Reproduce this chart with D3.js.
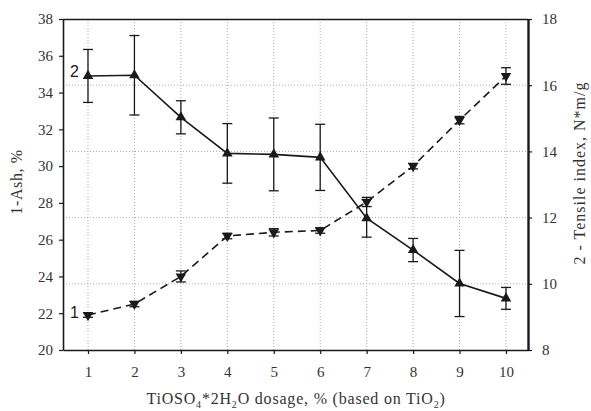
<!DOCTYPE html>
<html>
<head>
<meta charset="utf-8">
<script src="https://cdn.jsdelivr.net/npm/d3@7"></script>
<style>
body { margin: 0; background: #fff; }
svg { display: block; }
</style>
</head>
<body>
<div id="io"></div>
<script>
// dosage, %
const dosage = [1, 2, 3, 4, 5, 6, 7, 8, 9, 10];
// series 1 - ash, % (left axis)
const ash = [21.9, 22.5, 24.0, 26.2, 26.4, 26.5, 28.05, 30.0, 32.5, 34.9];
const ashErr = [0.12, 0.15, 0.3, 0.15, 0.2, 0.15, 0.25, 0.15, 0.2, 0.45];
// series 2 - tensile index (right axis)
const tensile = [16.28, 16.3, 15.03, 13.94, 13.91, 13.82, 11.98, 11.02, 10.01, 9.56];
const tensileErr = [0.8, 1.2, 0.5, 0.9, 1.1, 1.0, 0.57, 0.35, 1.0, 0.33];

const leftTicks = [20, 22, 24, 26, 28, 30, 32, 34, 36, 38];
const rightTicks = [8, 10, 12, 14, 16, 18];
const gridTicks = [10, 12, 14, 16];

const W = 591, H = 411;
const m = { top: 19, right: 63, bottom: 61, left: 63 };

const svg = d3.select('#io').append('svg').attr('width', W).attr('height', H);

const x = d3.scaleLinear().domain([0.462, 10.474]).range([m.left, W - m.right]);
const yL = d3.scaleLinear().domain([20, 38]).range([H - m.bottom, m.top]);
const yR = d3.scaleLinear().domain([8, 18]).range([H - m.bottom, m.top]);

const ink = '#1a1a1a';
const serif = '"Liberation Serif", "Times New Roman", serif';

// grid
svg.append('g').selectAll('line').data(dosage).enter().append('line')
  .attr('x1', d => x(d)).attr('x2', d => x(d))
  .attr('y1', m.top).attr('y2', H - m.bottom)
  .attr('stroke', '#aaa').attr('stroke-width', 1).attr('stroke-dasharray', '1,2');
svg.append('g').selectAll('line').data(gridTicks).enter().append('line')
  .attr('x1', m.left).attr('x2', W - m.right)
  .attr('y1', d => yR(d)).attr('y2', d => yR(d))
  .attr('stroke', '#aaa').attr('stroke-width', 1).attr('stroke-dasharray', '1,2');

// top border
svg.append('line').attr('x1', m.left).attr('x2', W - m.right)
  .attr('y1', m.top + 0.5).attr('y2', m.top + 0.5)
  .attr('stroke', ink).attr('stroke-width', 1.6);

function styleAxis(g, sw) {
  g.select('.domain').attr('stroke', ink).attr('stroke-width', sw);
  g.selectAll('.tick line').attr('stroke', ink).attr('stroke-width', 1.2);
  g.selectAll('.tick text').attr('font-family', serif).attr('font-size', 15).attr('fill', '#333');
}

const xAxis = svg.append('g').attr('transform', `translate(0,${H - m.bottom})`)
  .call(d3.axisBottom(x).tickValues(dosage).tickSize(4).tickSizeOuter(0).tickPadding(12));
styleAxis(xAxis, 1.6);

const lAxis = svg.append('g').attr('transform', `translate(${m.left},0)`)
  .call(d3.axisLeft(yL).tickValues(leftTicks).tickSize(4).tickSizeOuter(0).tickPadding(6));
styleAxis(lAxis, 1.6);

const rAxis = svg.append('g').attr('transform', `translate(${W - m.right},0)`)
  .call(d3.axisRight(yR).tickValues(rightTicks).tickSize(4).tickSizeOuter(0).tickPadding(10));
styleAxis(rAxis, 2.4);

// error bars
function errBars(vals, errs, y) {
  const g = svg.append('g').attr('stroke', ink).attr('stroke-width', 1.3);
  vals.forEach((v, i) => {
    const cx = x(dosage[i]);
    g.append('line').attr('x1', cx).attr('x2', cx).attr('y1', y(v - errs[i])).attr('y2', y(v + errs[i]));
    g.append('line').attr('x1', cx - 5).attr('x2', cx + 5).attr('y1', y(v + errs[i])).attr('y2', y(v + errs[i]));
    g.append('line').attr('x1', cx - 5).attr('x2', cx + 5).attr('y1', y(v - errs[i])).attr('y2', y(v - errs[i]));
  });
}
errBars(ash, ashErr, yL);
errBars(tensile, tensileErr, yR);

// lines
svg.append('path').datum(ash)
  .attr('fill', 'none').attr('stroke', ink).attr('stroke-width', 1.6).attr('stroke-dasharray', '8,5')
  .attr('d', d3.line().x((d, i) => x(dosage[i])).y(d => yL(d)));
svg.append('path').datum(tensile)
  .attr('fill', 'none').attr('stroke', ink).attr('stroke-width', 1.6)
  .attr('d', d3.line().x((d, i) => x(dosage[i])).y(d => yR(d)));

// markers
const tri = d3.symbol().type(d3.symbolTriangle).size(48);
svg.append('g').selectAll('path').data(ash).enter().append('path')
  .attr('d', tri).attr('fill', ink)
  .attr('transform', (d, i) => `translate(${x(dosage[i])},${yL(d)}) rotate(180)`);
svg.append('g').selectAll('path').data(tensile).enter().append('path')
  .attr('d', tri).attr('fill', ink)
  .attr('transform', (d, i) => `translate(${x(dosage[i])},${yR(d)})`);

// series labels
svg.append('text').attr('x', x(1) - 9).attr('y', yR(tensile[0]) + 1)
  .attr('text-anchor', 'end').attr('font-family', 'Liberation Sans, Arial, sans-serif')
  .attr('font-size', 16).attr('fill', ink).text('2');
svg.append('text').attr('x', x(1) - 9).attr('y', yL(ash[0]) + 3)
  .attr('text-anchor', 'end').attr('font-family', 'Liberation Sans, Arial, sans-serif')
  .attr('font-size', 16).attr('fill', ink).text('1');

// axis titles
svg.append('text').attr('transform', `translate(22,182) rotate(-90)`)
  .attr('text-anchor', 'middle').attr('font-family', serif).attr('font-size', 16)
  .attr('letter-spacing', 0.6).attr('fill', '#333')
  .text('1-Ash, %');
svg.append('text').attr('transform', `translate(585,173) rotate(-90)`)
  .attr('text-anchor', 'middle').attr('font-family', serif).attr('font-size', 16)
  .attr('letter-spacing', 1).attr('fill', '#333')
  .text('2 - Tensile index, N*m/g');

const xt = svg.append('text').attr('x', 296).attr('y', 404)
  .attr('text-anchor', 'middle').attr('font-family', serif).attr('font-size', 16)
  .attr('letter-spacing', 0.8).attr('fill', '#333');
xt.append('tspan').text('TiOSO');
xt.append('tspan').attr('font-size', 10).attr('dy', 4).text('4');
xt.append('tspan').attr('dy', -4).text('*2H');
xt.append('tspan').attr('font-size', 10).attr('dy', 4).text('2');
xt.append('tspan').attr('dy', -4).text('O dosage, % (based on TiO');
xt.append('tspan').attr('font-size', 10).attr('dy', 4).text('2');
xt.append('tspan').attr('dy', -4).text(')');
</script>
</body>
</html>
